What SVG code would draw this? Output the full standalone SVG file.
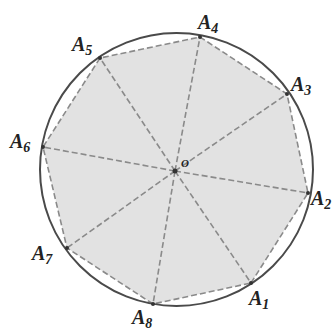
<svg xmlns="http://www.w3.org/2000/svg" width="335" height="331" viewBox="0 0 335 331">
<style>
.dash{stroke:#8a8a8a;stroke-width:1.6;stroke-dasharray:6 3;fill:none}
.lbl{font-family:"Liberation Serif","DejaVu Serif",serif;font-style:italic;font-weight:bold;font-size:20px;fill:#222}
.sub{font-size:14px}
.pt{fill:#333}
</style>
<rect width="335" height="331" fill="#ffffff"/>
<g id="polygon">
<polygon points="251,283 308,193 287,94 200,37 100,58 43,147 67,248 153,304" fill="#e2e2e2" stroke="#8a8a8a" stroke-width="1.6" stroke-dasharray="6 3"/>
</g>
<g id="circle">
<circle cx="176.5" cy="169.5" r="136.5" fill="none" stroke="#4a4a4a" stroke-width="2"/>
</g>
<g id="connectors">
<line class="dash" x1="175" y1="171" x2="251" y2="283"/>
<line class="dash" x1="175" y1="171" x2="308" y2="193"/>
<line class="dash" x1="175" y1="171" x2="287" y2="94"/>
<line class="dash" x1="175" y1="171" x2="200" y2="37"/>
<line class="dash" x1="175" y1="171" x2="100" y2="58"/>
<line class="dash" x1="175" y1="171" x2="43" y2="147"/>
<line class="dash" x1="175" y1="171" x2="67" y2="248"/>
<line class="dash" x1="175" y1="171" x2="153" y2="304"/>
</g>
<g id="O"><circle class="pt" cx="175" cy="171" r="2.5"/><text class="lbl" x="181" y="167" style="font-size:11px">O</text></g>
<g id="A1"><circle class="pt" cx="251" cy="283" r="2"/><text class="lbl" x="249" y="305">A<tspan class="sub" dy="4">1</tspan></text></g>
<g id="A2"><circle class="pt" cx="308" cy="193" r="2"/><text class="lbl" x="311" y="205">A<tspan class="sub" dy="4">2</tspan></text></g>
<g id="A3"><circle class="pt" cx="287" cy="94" r="2"/><text class="lbl" x="291" y="91">A<tspan class="sub" dy="4">3</tspan></text></g>
<g id="A4"><circle class="pt" cx="200" cy="37" r="2"/><text class="lbl" x="198" y="29">A<tspan class="sub" dy="4">4</tspan></text></g>
<g id="A5"><circle class="pt" cx="100" cy="58" r="2"/><text class="lbl" x="72" y="51">A<tspan class="sub" dy="4">5</tspan></text></g>
<g id="A6"><circle class="pt" cx="43" cy="147" r="2"/><text class="lbl" x="10" y="148">A<tspan class="sub" dy="4">6</tspan></text></g>
<g id="A7"><circle class="pt" cx="67" cy="248" r="2"/><text class="lbl" x="32" y="260">A<tspan class="sub" dy="4">7</tspan></text></g>
<g id="A8"><circle class="pt" cx="153" cy="304" r="2"/><text class="lbl" x="132" y="324">A<tspan class="sub" dy="4">8</tspan></text></g>
</svg>
